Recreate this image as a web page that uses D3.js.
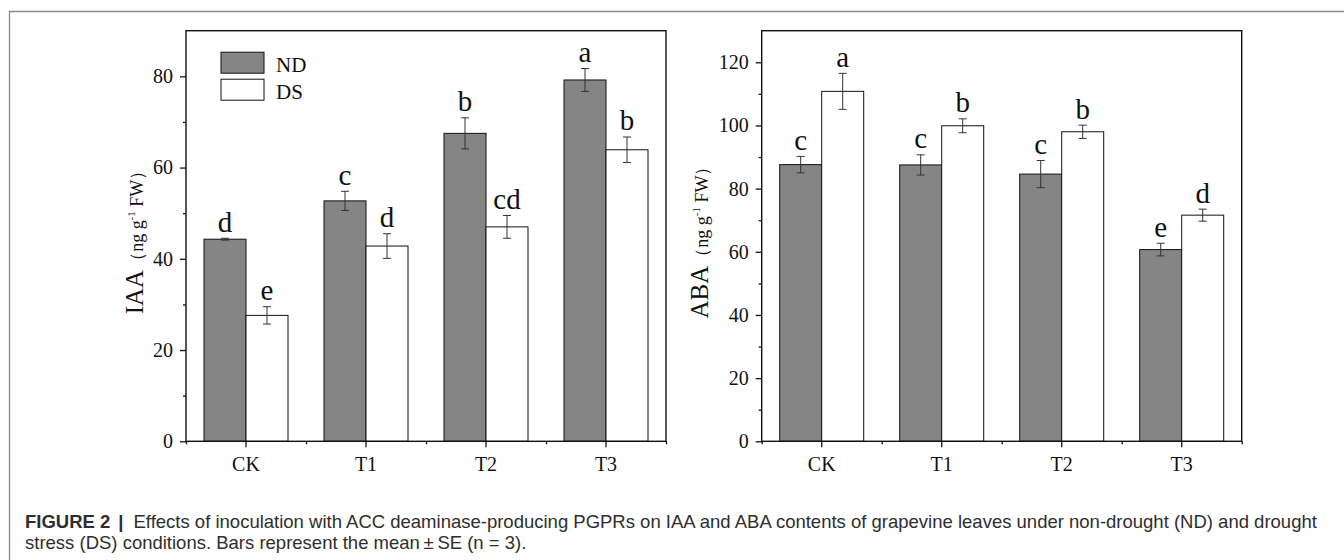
<!DOCTYPE html>
<html>
<head>
<meta charset="utf-8">
<script src="https://cdn.jsdelivr.net/npm/d3@7"></script>
<style>
  body { margin: 0; background: #fff; }
  svg { display: block; }
</style>
</head>
<body>
<div id="chart"></div>
<script>
const categories = ['CK', 'T1', 'T2', 'T3']
const groups = ['ND', 'DS']

// IAA (ng g-1 FW), mean and SE
const iaaND = [44.3, 52.7, 67.5, 79.2]
const iaaNDse = [0.2, 2.1, 3.4, 2.5]
const iaaDS = [27.6, 42.8, 47.0, 63.9]
const iaaDSse = [1.9, 2.7, 2.5, 2.8]
const iaaNDletters = ['d', 'c', 'b', 'a']
const iaaDSletters = ['e', 'd', 'cd', 'b']
const iaaTicks = [0, 20, 40, 60, 80]
const iaaMinor = [10, 30, 50, 70]

// ABA (ng g-1 FW), mean and SE
const abaND = [87.6, 87.5, 84.6, 60.7]
const abaNDse = [2.6, 3.2, 4.3, 2.0]
const abaDS = [110.8, 99.9, 98.0, 71.6]
const abaDSse = [5.7, 2.2, 2.1, 1.9]
const abaNDletters = ['c', 'c', 'c', 'e']
const abaDSletters = ['a', 'b', 'b', 'd']
const abaTicks = [0, 20, 40, 60, 80, 100, 120]
const abaMinor = [10, 30, 50, 70, 90, 110]

const captionLines = [
	'Effects of inoculation with ACC deaminase-producing PGPRs on IAA and ABA contents of grapevine leaves under non-drought (ND) and drought',
	'stress (DS) conditions. Bars represent the mean\u2009\u00b1\u2009SE (n = 3).'
]

const width = 1344
const height = 560
const plotTop = 30.7
const pw = 480
const ph = 410.6
const serif = '"Liberation Serif", "Times New Roman", serif'
const colors = { ND: '#858585', DS: '#ffffff' }

let svg = d3.select('#chart')
			.append('svg')
			.attr('width', width)
			.attr('height', height)
			.style('background-color', '#fff')

// frame round figure + caption
svg.append('path')
	.attr('d', `M9.5,${height} V11.5 H${width}`)
	.attr('fill', 'none')
	.attr('stroke', '#8c8c8c')
	.attr('stroke-width', 1.3)

const drawPanel = (left, opts) => {
	const g = svg.append('g').attr('transform', `translate(${left},${plotTop})`)

	const x = d3.scaleBand().domain(categories).range([0, pw])
	const xs = d3.scaleBand().domain(groups)
				.range([x.bandwidth() * 0.15, x.bandwidth() * 0.85])
	const y = d3.scaleLinear().domain([0, opts.max]).range([ph, 0])

	const rows = []
	categories.forEach((c, i) => {
		rows.push({ cat: c, grp: 'ND', v: opts.nd[i], se: opts.ndSe[i], letter: opts.ndL[i] })
		rows.push({ cat: c, grp: 'DS', v: opts.ds[i], se: opts.dsSe[i], letter: opts.dsL[i] })
	})

	// bars
	g.selectAll('rect.bar')
		.data(rows)
		.enter()
		.append('rect')
		.attr('class', 'bar')
		.attr('x', d => x(d.cat) + xs(d.grp))
		.attr('y', d => y(d.v))
		.attr('width', xs.bandwidth())
		.attr('height', d => ph - y(d.v))
		.attr('fill', d => colors[d.grp])
		.attr('stroke', '#111')
		.attr('stroke-width', 1)

	// error bars
	const cx = d => x(d.cat) + xs(d.grp) + xs.bandwidth() / 2
	const err = g.selectAll('g.err')
		.data(rows)
		.enter()
		.append('g')
		.attr('class', 'err')
		.attr('stroke', '#333')
		.attr('stroke-width', 1)
	err.append('line')
		.attr('x1', cx).attr('x2', cx)
		.attr('y1', d => y(d.v + d.se)).attr('y2', d => y(d.v - d.se))
	err.append('line')
		.attr('x1', d => cx(d) - 4).attr('x2', d => cx(d) + 4)
		.attr('y1', d => y(d.v + d.se)).attr('y2', d => y(d.v + d.se))
	err.append('line')
		.attr('x1', d => cx(d) - 4).attr('x2', d => cx(d) + 4)
		.attr('y1', d => y(d.v - d.se)).attr('y2', d => y(d.v - d.se))

	// significance letters
	g.selectAll('text.sig')
		.data(rows)
		.enter()
		.append('text')
		.attr('class', 'sig')
		.attr('x', cx)
		.attr('y', d => y(d.v + d.se) - 6.5)
		.attr('text-anchor', 'middle')
		.style('font-family', serif)
		.style('font-size', '29px')
		.attr('fill', '#111')
		.text(d => d.letter)

	// axes
	const styleAxis = a => {
		a.select('.domain').remove()
		a.selectAll('line').attr('stroke', '#111').attr('stroke-width', 1.3)
		a.selectAll('text').style('font-family', serif).style('font-size', '20px').attr('fill', '#111')
	}

	g.append('g')
		.attr('transform', `translate(0,${ph})`)
		.call(d3.axisBottom(x).tickSize(6).tickPadding(9.5))
		.call(styleAxis)

	g.append('g')
		.attr('transform', `translate(0,${ph})`)
		.call(d3.axisBottom(d3.scaleLinear().domain([0, categories.length]).range([0, pw]))
				.ticks(categories.length).tickSize(3).tickFormat(''))
		.call(styleAxis)

	g.append('g')
		.call(d3.axisLeft(y).tickValues(opts.ticks).tickSize(6).tickPadding(7))
		.call(styleAxis)

	g.append('g')
		.call(d3.axisLeft(y).tickValues(opts.minor).tickSize(3).tickFormat(''))
		.call(styleAxis)

	// box
	g.append('rect')
		.attr('width', pw)
		.attr('height', ph)
		.attr('fill', 'none')
		.attr('stroke', '#111')
		.attr('stroke-width', 1.4)

	// y label
	const lab = svg.append('text')
		.attr('transform', `translate(${opts.labelX},238) rotate(-90)`)
		.attr('text-anchor', 'middle')
		.style('font-family', serif)
		.attr('fill', '#111')
	lab.append('tspan').style('font-size', '25px').text(opts.label)
	lab.append('tspan').style('font-size', '18px').text('\uff08ng g')
	lab.append('tspan').style('font-size', '11px').attr('dy', -8).text('-1')
	lab.append('tspan').style('font-size', '18px').attr('dy', 8).text(' FW\uff09')

	return { g, x, y }
}

const leftPanel = drawPanel(186, {
	max: 90, nd: iaaND, ndSe: iaaNDse, ds: iaaDS, dsSe: iaaDSse,
	ndL: iaaNDletters, dsL: iaaDSletters, ticks: iaaTicks, minor: iaaMinor,
	label: 'IAA', labelX: 143
})

drawPanel(761.7, {
	max: 130, nd: abaND, ndSe: abaNDse, ds: abaDS, dsSe: abaDSse,
	ndL: abaNDletters, dsL: abaDSletters, ticks: abaTicks, minor: abaMinor,
	label: 'ABA', labelX: 708
})

// legend (left panel only)
const legend = leftPanel.g.append('g').attr('transform', 'translate(35,21.5)')
legend.selectAll('g')
	.data(groups)
	.enter()
	.append('g')
	.attr('transform', (d, i) => `translate(0,${i * 27})`)
	.each(function (d) {
		d3.select(this).append('rect')
			.attr('width', 43)
			.attr('height', 21)
			.attr('fill', colors[d])
			.attr('stroke', '#111')
			.attr('stroke-width', 1)
		d3.select(this).append('text')
			.attr('x', 55)
			.attr('y', 19.5)
			.style('font-family', serif)
			.style('font-size', '21px')
			.attr('fill', '#111')
			.text(d)
	})

// caption, separate pieces placed one after the other
const capY = [528, 549]
const cap = svg.append('g')
			.style('font-family', '"Liberation Sans", Arial, sans-serif')
			.style('font-size', '18.5px')
			.attr('fill', '#2e2e2e')
const figLabel = cap.append('text')
			.attr('x', 25).attr('y', capY[0])
			.style('font-weight', 'bold')
			.text('FIGURE 2')
const figEnd = 25 + figLabel.node().getComputedTextLength()
const bar = cap.append('text')
			.attr('x', figEnd + 8).attr('y', capY[0])
			.style('font-weight', 'bold')
			.text('|')
const barEnd = figEnd + 8 + bar.node().getComputedTextLength()
cap.append('text').attr('x', barEnd + 10).attr('y', capY[0]).text(captionLines[0])
cap.append('text').attr('x', 25).attr('y', capY[1]).text(captionLines[1])
</script>
</body>
</html>
